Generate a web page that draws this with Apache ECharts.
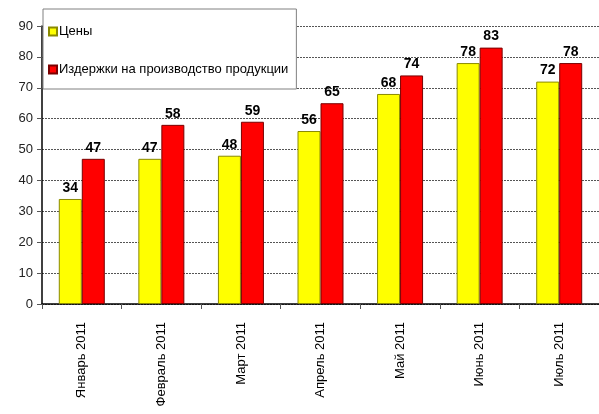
<!DOCTYPE html>
<html>
<head>
<meta charset="utf-8">
<script src="https://cdn.jsdelivr.net/npm/echarts@6/dist/echarts.min.js"></script>
<style>
  html, body { margin: 0; padding: 0; background: #fff; }
  #chart { width: 599px; height: 414px; }
</style>
</head>
<body>
<div id="chart"></div>
<script>
const months = ['Январь 2011', 'Февраль 2011', 'Март 2011', 'Апрель 2011', 'Май 2011', 'Июнь 2011', 'Июль 2011'];
const prices = [34, 47, 48, 56, 68, 78, 72];
const costs = [47, 58, 59, 65, 74, 83, 78];
const seriesNames = ['Цены', 'Издержки на производство продукции'];

const font = '"Liberation Sans", Arial, sans-serif';

const barLabel = {
  show: true,
  position: 'top',
  distance: 4,
  color: '#000',
  fontWeight: 'bold',
  fontSize: 14,
  fontFamily: font
};

const chart = echarts.init(document.getElementById('chart'));
chart.setOption({
  animation: false,
  grid: { left: 42, right: -6.5, top: 26, bottom: 110 },
  legend: {
    orient: 'vertical',
    left: 43,
    top: 9,
    width: 257,
    padding: [16, 8, 13, 5],
    itemGap: 25,
    itemWidth: 8,
    itemHeight: 8,
    backgroundColor: '#fff',
    borderColor: '#808080',
    borderWidth: 1,
    textStyle: { fontSize: 13, color: '#000', fontFamily: font, padding: [0, 0, 0, -3] },
    data: seriesNames.map(n => ({ name: n, icon: 'rect' }))
  },
  xAxis: {
    type: 'category',
    data: months,
    axisLine: { lineStyle: { color: '#000', width: 1.5 } },
    axisTick: { show: true, length: 5, lineStyle: { color: '#555' } },
    axisLabel: {
      rotate: 90,
      margin: 18,
      fontSize: 13,
      color: '#000',
      fontFamily: font
    }
  },
  yAxis: {
    type: 'value',
    min: 0,
    max: 90,
    interval: 10,
    axisLine: { show: true, lineStyle: { color: '#000', width: 1.5 } },
    axisTick: { show: true, length: 5, lineStyle: { color: '#555' } },
    axisLabel: { fontSize: 13, color: '#222', fontFamily: font, margin: 9 },
    splitLine: { lineStyle: { color: '#555', type: [2, 1], width: 1 } }
  },
  series: [
    {
      name: seriesNames[0],
      type: 'bar',
      data: prices,
      barWidth: 23,
      barGap: '0%',
      itemStyle: { color: '#ffff00', borderColor: '#8a8a00', borderWidth: 1 },
      label: barLabel
    },
    {
      name: seriesNames[1],
      type: 'bar',
      data: costs,
      barWidth: 23,
      itemStyle: { color: '#ff0000', borderColor: '#7a0000', borderWidth: 1 },
      label: barLabel
    }
  ]
});
</script>
</body>
</html>
